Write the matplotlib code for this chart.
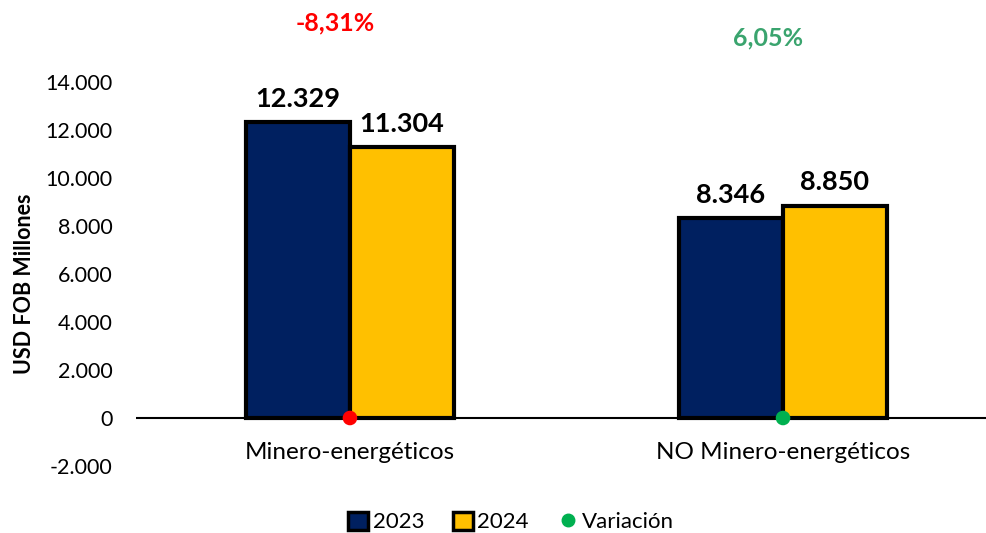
import matplotlib.pyplot as plt
from matplotlib.patches import Patch
from matplotlib.lines import Line2D
from matplotlib.ticker import FuncFormatter
import matplotlib.transforms as mtransforms

plt.rcParams['font.family'] = ['Lato', 'DejaVu Sans']

categories = ['Minero-energéticos', 'NO Minero-energéticos']
v2023 = [12329, 8346]
v2024 = [11304, 8850]
variacion = [-8.31, 6.05]
var_labels = ['-8,31%', '6,05%']

c2023 = '#002060'
c2024 = '#FFC000'
var_colors = ['#FF0000', '#00B050']
var_text_colors = ['#FF0000', '#3AA46E']

fig = plt.figure(figsize=(9.87, 5.33), dpi=100)
ax = fig.add_axes([136 / 987, 67 / 533, 851 / 987, 384 / 533])

w = 0.24
x = list(range(len(categories)))
ax.bar([i - w / 2 for i in x], v2023, width=w, color=c2023,
       edgecolor='black', linewidth=3, zorder=3)
ax.bar([i + w / 2 for i in x], v2024, width=w, color=c2024,
       edgecolor='black', linewidth=3, zorder=3)

# bar value labels
for i in x:
    for off, v in ((-w / 2, v2023[i]), (w / 2, v2024[i])):
        ax.annotate(f'{v:,}'.replace(',', '.'), (i + off, v),
                    xytext=(0, 8), textcoords='offset points',
                    ha='center', va='bottom', fontsize=19.5, fontweight='bold')

# variation points on the zero line
ax.scatter(x, [0] * len(x), s=90, c=var_colors, zorder=5, clip_on=False)

# variation labels above the plot
trans = mtransforms.blended_transform_factory(ax.transData, ax.transAxes)
var_y = [1.154, 1.115]
for i in x:
    ax.text(i - 0.035, var_y[i], var_labels[i], transform=trans,
            ha='center', va='center', fontsize=18, fontweight='bold',
            color=var_text_colors[i])

ax.axhline(0, color='black', linewidth=1.5, zorder=4)

ax.set_xlim(-0.494, 1.471)
ax.set_ylim(-2000, 14000)
ax.set_yticks(range(-2000, 14001, 2000))
ax.yaxis.set_major_formatter(FuncFormatter(lambda v, p: f'{int(v):,}'.replace(',', '.')))
ax.tick_params(axis='y', length=0, labelsize=15.5, pad=17)
ax.set_xticks([])
for s in ax.spines.values():
    s.set_visible(False)

for i in x:
    ax.text(i, -1420, categories[i], ha='center', va='center', fontsize=17.5)

fig.text(25 / 987, 1 - 284 / 533, 'USD FOB Millones', rotation=90,
         ha='center', va='center', fontsize=15.5, fontweight='bold')

handles = [
    Patch(facecolor=c2023, edgecolor='black', linewidth=2.5, label='2023'),
    Patch(facecolor=c2024, edgecolor='black', linewidth=2.5, label='2024'),
    Line2D([], [], marker='o', linestyle='none', markersize=9,
           markerfacecolor='#00B050', markeredgecolor='#00B050', label='Variación'),
]
fig.legend(handles=handles, loc='center', bbox_to_anchor=(0.518, 1 - 522 / 533),
           ncol=3, frameon=False, fontsize=16, handlelength=0.9, handleheight=0.9,
           handletextpad=0.2, columnspacing=1.3)

fig.savefig('out.png', dpi=100)
